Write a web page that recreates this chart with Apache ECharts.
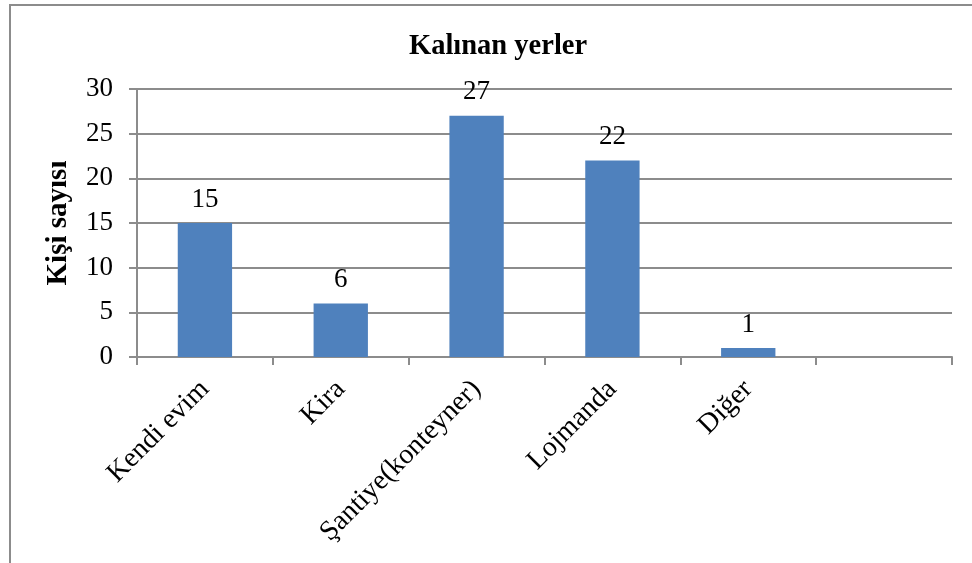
<!DOCTYPE html>
<html><head><meta charset="utf-8">
<script src="https://cdn.jsdelivr.net/npm/echarts@6/dist/echarts.min.js"></script>
<style>html,body{margin:0;padding:0;background:#fff}#c{width:972px;height:563px}</style>
</head><body><div id="c"></div>
<script>
const categories = ['Kendi evim', 'Kira', 'Şantiye(konteyner)', 'Lojmanda', 'Diğer', ''];
const values = [15, 6, 27, 22, 1, null];
const yTicks = [0, 5, 10, 15, 20, 25, 30];
const titleText = 'Kalınan yerler';
const yName = 'Kişi sayısı';

const font = '"Liberation Serif", "Times New Roman", serif';
const chart = echarts.init(document.getElementById('c'));
chart.setOption({
  animation: false,
  backgroundColor: '#fff',
  textStyle: { fontFamily: font },
  graphic: [{
    type: 'rect', shape: { x: 10, y: 5, width: 1100, height: 1100 },
    style: { fill: 'none', stroke: '#8c8c8c', lineWidth: 2 }, silent: true
  }],
  title: {
    text: titleText, left: 404, top: 27,
    textStyle: { fontFamily: font, fontWeight: 'bold', fontSize: 28.5, color: '#000' }
  },
  grid: { left: 137, right: 20, top: 89, bottom: 206, containLabel: false },
  xAxis: {
    type: 'category', data: categories,
    axisLine: { lineStyle: { color: '#8c8c8c', width: 2 } },
    axisTick: { show: true, length: 8, alignWithLabel: false, lineStyle: { color: '#8c8c8c', width: 2 } },
    axisLabel: { rotate: 45, fontFamily: font, fontSize: 28, color: '#000', margin: 28, interval: 0 }
  },
  yAxis: {
    type: 'value', min: yTicks[0], max: yTicks[yTicks.length - 1], interval: 5,
    name: yName, nameLocation: 'middle', nameGap: 64, nameRotate: 90,
    nameTextStyle: { fontFamily: font, fontWeight: 'bold', fontSize: 29, color: '#000' },
    axisLine: { show: true, lineStyle: { color: '#8c8c8c', width: 2 } },
    axisTick: { show: true, length: 8, inside: false, lineStyle: { color: '#8c8c8c', width: 2 } },
    axisLabel: { fontFamily: font, fontSize: 27, color: '#000', margin: 24 },
    splitLine: { show: true, lineStyle: { color: '#8c8c8c', width: 2 } }
  },
  series: [{
    type: 'bar', data: values, barWidth: '40%',
    itemStyle: { color: '#4f81bd' },
    label: { show: true, position: 'top', distance: 10, fontFamily: font, fontSize: 27, color: '#000' }
  }]
});
</script></body></html>
